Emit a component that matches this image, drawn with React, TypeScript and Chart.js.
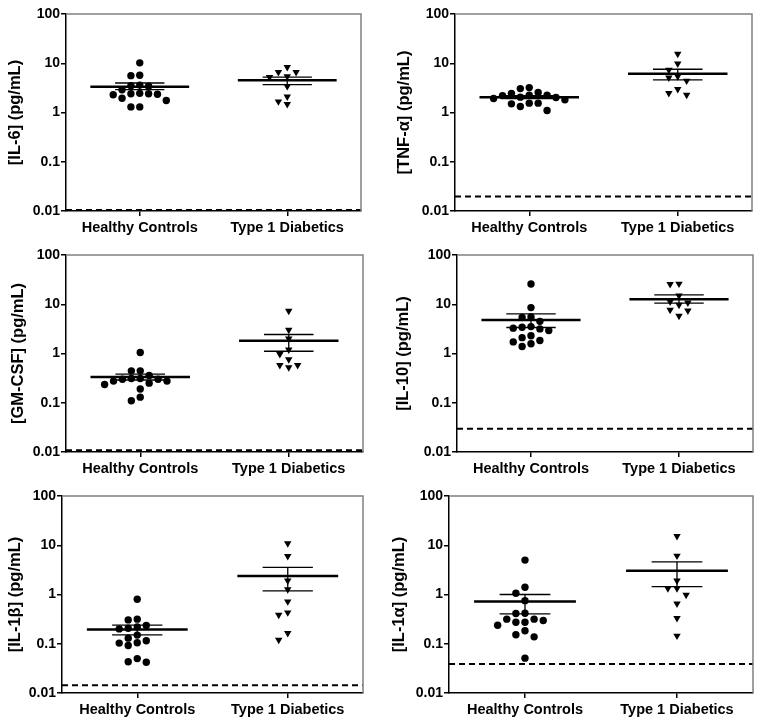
import React, { useEffect, useRef } from "react";
import { Chart, registerables } from "chart.js";

Chart.register(...registerables);

const categories = ["Healthy Controls", "Type 1 Diabetics"];
const yTickValues = [0.01, 0.1, 1, 10, 100];

// [IL-6]
const il6Healthy = [10.2, 5.7, 5.6, 3.6, 3.5, 3.4, 2.9, 2.45, 2.4, 2.4, 2.35, 2.3, 1.95, 1.75, 1.3, 1.3];
const il6Diabetic = [8.3, 6.6, 6.6, 5.4, 5.2, 3.4, 2.1, 1.67, 1.48];
const il6Mean = [3.35, 4.5];
const il6SemLow = [2.92, 3.68];
const il6SemHigh = [3.97, 5.25];
const il6Lod = 0.0105;

// [TNF-α]
const tnfHealthy = [3.2, 3.06, 2.54, 2.45, 2.24, 2.24, 2.2, 2.05, 2.01, 1.92, 1.81, 1.55, 1.55, 1.5, 1.32, 1.1];
const tnfDiabetic = [15.5, 9.8, 7.3, 5.4, 5.1, 4.4, 2.97, 2.46, 2.28];
const tnfMean = [2.05, 6.1];
const tnfSemLow = [1.92, 4.6];
const tnfSemHigh = [2.2, 7.55];
const tnfLod = 0.0198;

// [GM-CSF]
const gmHealthy = [1.05, 0.444, 0.444, 0.357, 0.31, 0.31, 0.3, 0.3, 0.275, 0.275, 0.25, 0.234, 0.19, 0.13, 0.11];
const gmDiabetic = [7.3, 3.0, 2.0, 1.2, 0.97, 0.76, 0.58, 0.58, 0.52];
const gmMean = [0.335, 1.81];
const gmSemLow = [0.29, 1.11];
const gmSemHigh = [0.38, 2.43];
const gmLod = 0.0108;

// [IL-10]
const il10Healthy = [25.8, 8.55, 5.5, 5.4, 4.5, 3.52, 3.42, 3.27, 3.16, 2.92, 2.3, 2.1, 1.84, 1.72, 1.58, 1.39];
const il10Diabetic = [26, 25.5, 15, 11.3, 10.8, 9.7, 7.7, 7.4, 5.8];
const il10Mean = [4.8, 12.6];
const il10SemLow = [3.37, 10.5];
const il10SemHigh = [6.4, 15.5];
const il10Lod = 0.0297;

// [IL-1β]
const il1bHealthy = [0.8, 0.316, 0.305, 0.235, 0.22, 0.207, 0.2, 0.15, 0.13, 0.115, 0.105, 0.103, 0.092, 0.05, 0.043, 0.042];
const il1bDiabetic = [10.9, 6.0, 1.9, 1.27, 0.72, 0.43, 0.385, 0.164, 0.12];
const il1bMean = [0.195, 2.37];
const il1bSemLow = [0.152, 1.18];
const il1bSemHigh = [0.238, 3.55];
const il1bLod = 0.0143;

// [IL-1α]
const il1aHealthy = [5.0, 1.4, 1.06, 0.75, 0.417, 0.41, 0.316, 0.316, 0.296, 0.274, 0.274, 0.238, 0.183, 0.152, 0.138, 0.051];
const il1aDiabetic = [15.3, 6.1, 1.9, 1.33, 1.33, 0.98, 0.65, 0.33, 0.145];
const il1aMean = [0.72, 3.04];
const il1aSemLow = [0.404, 1.44];
const il1aSemHigh = [1.0, 4.6];
const il1aLod = 0.0387;

const FONT = "'Liberation Sans', Arial, Helvetica, sans-serif";
const STEP = 0.06;
const THRESH = 0.15;
const MEAN_HALF = 0.335;
const SEM_HALF = 0.167;

function swarm(values: number[], center: number) {
  const placed: { slot: number; ly: number }[] = [];
  const order = values.map((_, i) => i).sort((a, b) => values[b] - values[a]);
  const out: { x: number; y: number }[] = new Array(values.length);
  for (const i of order) {
    const ly = Math.log10(values[i]);
    for (let k = 0; k < 50; k++) {
      const slot = k === 0 ? 0 : k % 2 === 1 ? -Math.ceil(k / 2) : Math.ceil(k / 2);
      if (!placed.some((p) => p.slot === slot && Math.abs(p.ly - ly) < THRESH)) {
        placed.push({ slot, ly });
        out[i] = { x: center + slot * STEP, y: values[i] };
        break;
      }
    }
  }
  return out;
}

const framePlugin = {
  id: "frame",
  afterDraw(chart: any) {
    const { ctx, chartArea: a } = chart;
    ctx.save();
    ctx.strokeStyle = "#808080";
    ctx.lineWidth = 1.5;
    ctx.beginPath();
    ctx.moveTo(a.left, a.top);
    ctx.lineTo(a.right, a.top);
    ctx.lineTo(a.right, a.bottom);
    ctx.stroke();
    ctx.restore();
  },
};

type PanelProps = {
  title: string;
  healthy: number[];
  diabetic: number[];
  mean: number[];
  semLow: number[];
  semHigh: number[];
  lod: number;
  cx: number; cy: number; cw: number; ch: number;
  pl: number; pr: number; pt: number; pb: number;
  titleX: number;
};

function Panel(p: PanelProps) {
  const ref = useRef<HTMLCanvasElement>(null);
  useEffect(() => {
    if (!ref.current) return;
    const lineDs = (pts: { x: number; y: number }[], width: number, dash?: number[]) => ({
      data: pts,
      showLine: true,
      borderColor: "#000",
      borderWidth: width,
      borderDash: dash || [],
      pointRadius: 0,
      fill: false,
    });
    const groupLines: any[] = [];
    [0, 1].forEach((c) => {
      groupLines.push(lineDs([{ x: c - MEAN_HALF, y: p.mean[c] }, { x: c + MEAN_HALF, y: p.mean[c] }], 2.5));
      groupLines.push(lineDs([{ x: c - SEM_HALF, y: p.semHigh[c] }, { x: c + SEM_HALF, y: p.semHigh[c] }], 1.3));
      groupLines.push(lineDs([{ x: c - SEM_HALF, y: p.semLow[c] }, { x: c + SEM_HALF, y: p.semLow[c] }], 1.3));
      groupLines.push(lineDs([{ x: c, y: p.semLow[c] }, { x: c, y: p.semHigh[c] }], 1.3));
    });
    const chart = new Chart(ref.current, {
      type: "scatter",
      data: {
        datasets: [
          lineDs([{ x: -0.5, y: p.lod }, { x: 1.5, y: p.lod }], 2, [6, 4]),
          ...groupLines,
          {
            data: swarm(p.healthy, 0),
            pointStyle: "circle",
            pointRadius: 3.7,
            backgroundColor: "#000",
            borderWidth: 0,
          },
          {
            data: swarm(p.diabetic, 1),
            pointStyle: "triangle",
            rotation: 180,
            pointRadius: 4.3,
            backgroundColor: "#000",
            borderWidth: 0,
          },
        ] as any,
      },
      options: {
        animation: false,
        responsive: false,
        events: [],
        layout: {
          padding: { left: 0, top: p.pt - p.cy, right: p.cx + p.cw - p.pr, bottom: 0 },
        },
        plugins: { legend: { display: false }, tooltip: { enabled: false } },
        scales: {
          x: {
            type: "linear",
            min: -0.5,
            max: 1.5,
            afterBuildTicks: (s: any) => {
              s.ticks = [{ value: 0 }, { value: 1 }];
            },
            afterFit: (s: any) => {
              s.height = p.cy + p.ch - p.pb;
            },
            ticks: {
              callback: (v: any) => categories[v],
              font: { family: FONT, weight: "bold", size: 14.5 },
              color: "#000",
              padding: 3,
              maxRotation: 0,
              autoSkip: false,
            },
            grid: { drawOnChartArea: false, tickLength: 5, color: "#000", lineWidth: 1.5 },
            border: { display: true, color: "#000", width: 1.5 },
          },
          y: {
            type: "logarithmic",
            min: 0.01,
            max: 100,
            afterBuildTicks: (s: any) => {
              s.ticks = yTickValues.map((v) => ({ value: v }));
            },
            afterFit: (s: any) => {
              s.width = p.pl - p.cx;
            },
            ticks: {
              callback: (v: any) => String(v),
              font: { family: FONT, weight: "bold", size: 14 },
              color: "#000",
              padding: 1,
              autoSkip: false,
            },
            grid: { drawOnChartArea: false, tickLength: 5, color: "#000", lineWidth: 1.5 },
            border: { display: true, color: "#000", width: 1.5 },
            title: {
              display: true,
              text: p.title,
              color: "#000",
              font: { family: FONT, weight: "bold", size: 16.5 },
              padding: { top: p.titleX - p.cx - 9.9, bottom: 0 },
            },
          },
        },
      } as any,
      plugins: [framePlugin],
    });
    return () => chart.destroy();
  }, []);
  return (
    <canvas
      ref={ref}
      width={p.cw}
      height={p.ch}
      style={{ position: "absolute", left: p.cx, top: p.cy, width: p.cw, height: p.ch }}
    />
  );
}

export default function App() {
  return (
    <div style={{ position: "absolute", left: 0, top: 0, width: 762, height: 725, background: "#fff", overflow: "hidden" }}>
      <Panel title="[IL-6] (pg/mL)" healthy={il6Healthy} diabetic={il6Diabetic} mean={il6Mean} semLow={il6SemLow} semHigh={il6SemHigh} lod={il6Lod}
        cx={0} cy={0} cw={381} ch={240} pl={66} pr={361} pt={14} pb={211} titleX={15.5} />
      <Panel title="[TNF-α] (pg/mL)" healthy={tnfHealthy} diabetic={tnfDiabetic} mean={tnfMean} semLow={tnfSemLow} semHigh={tnfSemHigh} lod={tnfLod}
        cx={381} cy={0} cw={381} ch={240} pl={455} pr={752} pt={14} pb={211} titleX={404} />
      <Panel title="[GM-CSF] (pg/mL)" healthy={gmHealthy} diabetic={gmDiabetic} mean={gmMean} semLow={gmSemLow} semHigh={gmSemHigh} lod={gmLod}
        cx={0} cy={240} cw={381} ch={240} pl={66} pr={363} pt={255} pb={452} titleX={18} />
      <Panel title="[IL-10] (pg/mL)" healthy={il10Healthy} diabetic={il10Diabetic} mean={il10Mean} semLow={il10SemLow} semHigh={il10SemHigh} lod={il10Lod}
        cx={381} cy={240} cw={381} ch={240} pl={457} pr={753} pt={255} pb={452} titleX={403} />
      <Panel title="[IL-1β] (pg/mL)" healthy={il1bHealthy} diabetic={il1bDiabetic} mean={il1bMean} semLow={il1bSemLow} semHigh={il1bSemHigh} lod={il1bLod}
        cx={0} cy={480} cw={381} ch={245} pl={62} pr={363} pt={496} pb={693} titleX={15.5} />
      <Panel title="[IL-1α] (pg/mL)" healthy={il1aHealthy} diabetic={il1aDiabetic} mean={il1aMean} semLow={il1aSemLow} semHigh={il1aSemHigh} lod={il1aLod}
        cx={381} cy={480} cw={381} ch={245} pl={449} pr={753} pt={496} pb={693} titleX={399} />
    </div>
  );
}
